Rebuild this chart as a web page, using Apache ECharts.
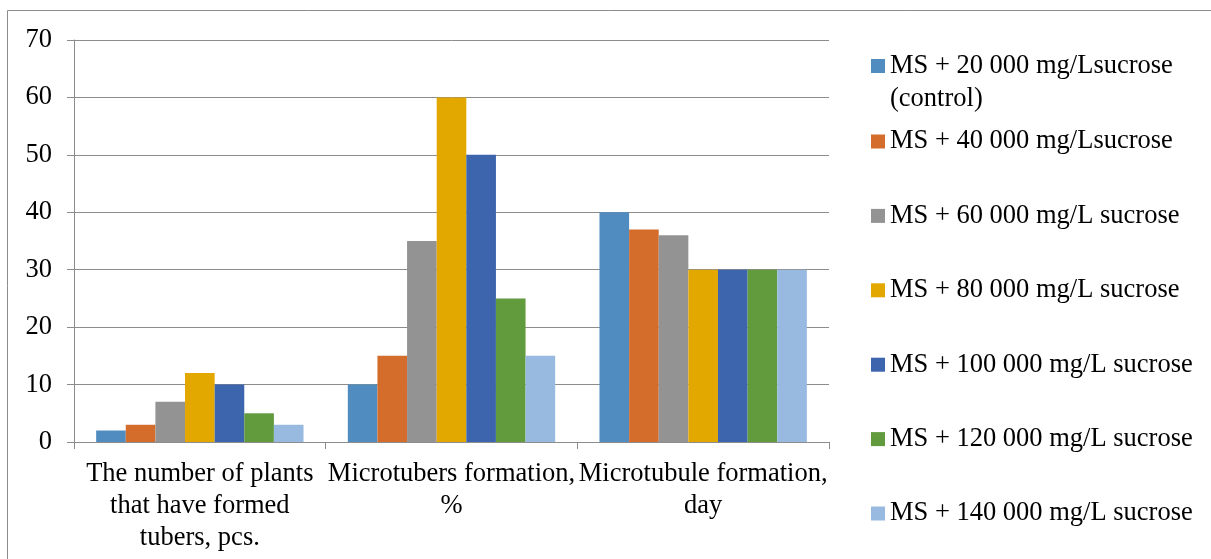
<!DOCTYPE html>
<html>
<head>
<meta charset="utf-8">
<script src="https://cdn.jsdelivr.net/npm/echarts@6/dist/echarts.min.js"></script>
<style>
  html, body { margin: 0; padding: 0; background: #fff; }
  #chart { width: 1211px; height: 559px; }
</style>
</head>
<body>
<div id="chart"></div>
<script>
// Categories on the x axis
const categories = [
  'The number of plants\nthat have formed\ntubers, pcs.',
  'Microtubers formation,\n%',
  'Microtubule formation,\nday'
];

// One series per sucrose concentration
const seriesNames = [
  'MS + 20 000 mg/Lsucrose (control)',
  'MS + 40 000 mg/Lsucrose',
  'MS + 60 000 mg/L sucrose',
  'MS + 80 000 mg/L sucrose',
  'MS + 100 000 mg/L sucrose',
  'MS + 120 000 mg/L sucrose',
  'MS + 140 000 mg/L sucrose'
];

const sucrose20 = [2, 10, 40];
const sucrose40 = [3, 15, 37];
const sucrose60 = [7, 35, 36];
const sucrose80 = [12, 60, 30];
const sucrose100 = [10, 50, 30];
const sucrose120 = [5, 25, 30];
const sucrose140 = [3, 15, 30];

const seriesValues = [sucrose20, sucrose40, sucrose60, sucrose80, sucrose100, sucrose120, sucrose140];

const colors = ['#508CC0', '#D46C2C', '#939393', '#E2A800', '#3D65AD', '#629A3E', '#98B9E0'];

const yTicks = { min: 0, max: 70, interval: 10 };

const serif = '"Liberation Serif", "Times New Roman", serif';
const gridColor = '#8C8C8C';
const fontSize = 26.5;

const chart = echarts.init(document.getElementById('chart'), null, { renderer: 'canvas' });

const legendText = {
  fontFamily: serif,
  fontSize: fontSize,
  color: '#000',
  lineHeight: 33
};

chart.setOption({
  animation: false,
  color: colors,
  graphic: [{
    type: 'rect',
    silent: true,
    shape: { x: 7.5, y: 10.5, width: 1215, height: 560 },
    style: { fill: 'none', stroke: '#8C8C8C', lineWidth: 1 }
  }],
  grid: { left: 74, top: 40, right: 382, bottom: 117, containLabel: false },
  legend: [
    {
      // the first entry wraps to two lines; its swatch sits beside the first line,
      // so the icon path is a square at the top of a taller (empty) box
      data: [seriesNames[0]],
      orient: 'vertical',
      left: 871,
      top: 49.5,
      padding: 0,
      itemWidth: 14,
      itemHeight: 47,
      itemGap: 0,
      icon: 'path://M0,0L14,0L14,14L0,14ZM0,47L0.001,47Z',
      selectedMode: false,
      formatter: name => name.replace(' (', '\n('),
      textStyle: legendText
    },
    {
      data: seriesNames.slice(1),
      orient: 'vertical',
      left: 871,
      top: 125,
      padding: 0,
      itemWidth: 14,
      itemHeight: 14,
      itemGap: 41.4,
      icon: 'rect',
      selectedMode: false,
      textStyle: legendText
    }
  ],
  xAxis: {
    type: 'category',
    data: categories,
    axisLine: { lineStyle: { color: gridColor, width: 1 } },
    axisTick: { show: true, alignWithLabel: false, length: 7, lineStyle: { color: gridColor } },
    axisLabel: {
      interval: 0,
      margin: 16,
      fontFamily: serif,
      fontSize: fontSize,
      lineHeight: 32,
      color: '#000'
    }
  },
  yAxis: {
    type: 'value',
    min: yTicks.min,
    max: yTicks.max,
    interval: yTicks.interval,
    axisLine: { show: true, lineStyle: { color: gridColor, width: 1 } },
    axisTick: { show: true, length: 7, lineStyle: { color: gridColor } },
    splitLine: { show: true, lineStyle: { color: gridColor, width: 1 } },
    axisLabel: {
      margin: 22,
      fontFamily: serif,
      fontSize: fontSize,
      color: '#000'
    }
  },
  series: seriesNames.map((name, i) => ({
    name: name,
    type: 'bar',
    data: seriesValues[i],
    barGap: '0%',
    barCategoryGap: '17.6%',
    itemStyle: { color: colors[i] }
  }))
});
</script>
</body>
</html>
